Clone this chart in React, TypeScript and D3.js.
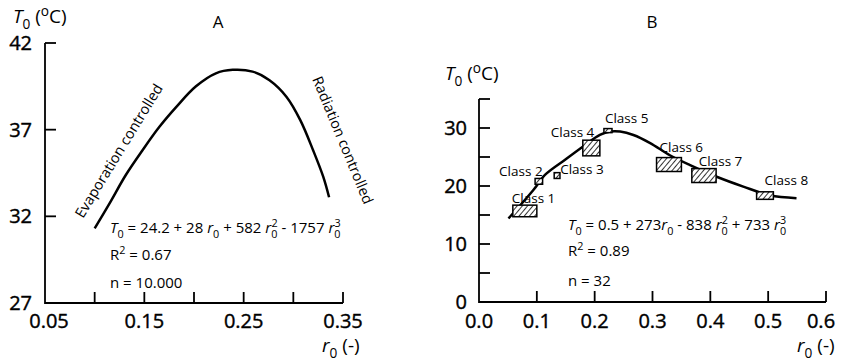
import * as d3 from 'd3'
import { useEffect, useRef } from 'react'

// panel A: fitted curve (r0, T0)
const curveA: [number, number][] = [
  [0.1, 31.3], [0.115, 32.75], [0.1315, 34.4], [0.148, 35.8], [0.165, 37.15],
  [0.182, 38.3], [0.202, 39.5], [0.222, 40.25], [0.239, 40.45], [0.259, 40.35],
  [0.276, 39.85], [0.293, 38.9], [0.307, 37.55], [0.32, 35.8], [0.33, 34.3],
  [0.336, 33.1],
]
const xTicksA = [0.05, 0.1, 0.15, 0.2, 0.25, 0.3, 0.35]
const xLabelsA = [0.05, 0.15, 0.25, 0.35]
const yTicksA = [27, 32, 37, 42]

// panel B: fitted curve
const curveB: [number, number][] = [
  [0.051, 14.4], [0.094, 19.3], [0.114, 21.9], [0.15, 24.6], [0.18, 26.8],
  [0.209, 28.8], [0.227, 29.4], [0.244, 29.4], [0.267, 28.8], [0.296, 27.4],
  [0.33, 25.3], [0.365, 23.6], [0.411, 21.6], [0.457, 19.9], [0.503, 18.4],
  [0.549, 17.9],
]
// class boxes: r0 range and T0 range
const classNames = ['Class 1', 'Class 2', 'Class 3', 'Class 4', 'Class 5', 'Class 6', 'Class 7', 'Class 8']
const classR0: [number, number][] = [
  [0.0585, 0.1], [0.097, 0.11], [0.13, 0.14], [0.1795, 0.209],
  [0.216, 0.23], [0.307, 0.35], [0.368, 0.41], [0.48, 0.509],
]
const classT0: [number, number][] = [
  [14.7, 16.7], [20.3, 21.3], [21.3, 22.3], [25.2, 27.9],
  [29.2, 29.9], [22.5, 24.9], [20.6, 23.0], [17.7, 19.0],
]
const xTicksB = [0, 0.1, 0.2, 0.3, 0.4, 0.5, 0.6]
const yTicksB = [0, 5, 10, 15, 20, 25, 30, 35]
const yLabelsB = [0, 10, 20, 30]

// label placement relative to box top-left (px)
const labelOffsets: [number, number][] = [
  [-1, -2], [-36, -2], [6, 1], [-32, -3], [1, -6], [3, -5.5], [7, -3], [8, -7],
]

const FONT = '"Open Sans", "DejaVu Sans", sans-serif'

type Part = [string, string] // [text, style] n normal, i italic, b sub, p sup, q sup stacked on sub

function rich(
  g: d3.Selection<SVGGElement, unknown, null, undefined>,
  x: number,
  y: number,
  size: number,
  parts: Part[],
  anchor = 'start'
) {
  const t = g
    .append('text')
    .attr('x', x)
    .attr('y', y)
    .attr('font-size', size)
    .attr('font-family', FONT)
    .attr('text-anchor', anchor)
  let shift = 0
  parts.forEach(([s, st]) => {
    let target = 0
    let fs = size
    let dx = 0
    if (st === 'b') {
      target = size * 0.3
      fs = size * 0.72
    } else if (st === 'p' || st === 'q') {
      target = -size * 0.38
      fs = size * 0.72
      if (st === 'q') dx = -size * 0.4
    }
    const ts = t
      .append('tspan')
      .attr('dy', target - shift)
      .attr('font-size', fs)
      .text(s)
    if (dx) ts.attr('dx', dx)
    if (st === 'i') ts.attr('font-style', 'italic')
    shift = target
  })
  return t
}

export default function App() {
  const ref = useRef<SVGSVGElement>(null)

  useEffect(() => {
    const svg = d3.select(ref.current)
    svg.selectAll('*').remove()

    const defs = svg.append('defs')
    const pat = defs
      .append('pattern')
      .attr('id', 'hatch')
      .attr('patternUnits', 'userSpaceOnUse')
      .attr('width', 4)
      .attr('height', 4)
      .attr('patternTransform', 'rotate(40)')
    pat.append('rect').attr('width', 4).attr('height', 4).attr('fill', '#fff')
    pat.append('line').attr('x1', 0).attr('y1', 0).attr('x2', 0).attr('y2', 4)
      .attr('stroke', '#000').attr('stroke-width', 1.6)

    const g = svg.append('g') as d3.Selection<SVGGElement, unknown, null, undefined>

    // ---------- panel A ----------
    const xA = d3.scaleLinear().domain([0.05, 0.35]).range([45, 343])
    const yA = d3.scaleLinear().domain([27, 42]).range([303, 43])

    g.append('path')
      .attr('d', `M${xA(0.05)},${yA(42)}V${yA(27)}H${xA(0.35)}`)
      .attr('fill', 'none').attr('stroke', '#000').attr('stroke-width', 1.8)

    g.selectAll('.txa').data(xTicksA.slice(1)).enter().append('line')
      .attr('x1', (d) => xA(d)).attr('x2', (d) => xA(d))
      .attr('y1', yA(27)).attr('y2', yA(27) - 11)
      .attr('stroke', '#000').attr('stroke-width', 1.8)
    g.selectAll('.tya').data(yTicksA.slice(1)).enter().append('line')
      .attr('x1', xA(0.05)).attr('x2', xA(0.05) + 11)
      .attr('y1', (d) => yA(d)).attr('y2', (d) => yA(d))
      .attr('stroke', '#000').attr('stroke-width', 1.8)

    g.selectAll('.lxa').data(xLabelsA).enter().append('text')
      .attr('x', (d) => xA(d) + (d === 0.05 ? 4 : 0)).attr('y', 328)
      .attr('text-anchor', 'middle').attr('font-size', 20).attr('font-family', FONT)
      .attr('stroke', '#000').attr('stroke-width', 0.4)
      .text((d) => d.toFixed(2))
    g.selectAll('.lya').data(yTicksA).enter().append('text')
      .attr('x', 32).attr('y', (d) => yA(d) + 7)
      .attr('text-anchor', 'end').attr('font-size', 20).attr('font-family', FONT)
      .attr('stroke', '#000').attr('stroke-width', 0.4)
      .text((d) => d)

    const lineA = d3.line<[number, number]>()
      .x((d) => xA(d[0])).y((d) => yA(d[1]))
      .curve(d3.curveCatmullRom)
    g.append('path').attr('d', lineA(curveA) as string)
      .attr('fill', 'none').attr('stroke', '#000').attr('stroke-width', 2.5)

    g.append('text').attr('x', 218).attr('y', 28).attr('text-anchor', 'middle')
      .attr('font-size', 17).attr('font-family', FONT).text('A')

    rich(g, 13, 23, 19, [['T', 'i'], ['0', 'b'], [' (', 'n'], ['o', 'p'], ['C)', 'n']])
    rich(g, 322, 352, 19, [['r', 'i'], ['0', 'b'], [' (-)', 'n']])

    g.append('text')
      .attr('transform', 'translate(83,219) rotate(-58.5)')
      .attr('font-size', 14.5).attr('font-family', FONT).text('Evaporation controlled')
    g.append('text')
      .attr('transform', 'translate(312,79) rotate(67.5)')
      .attr('font-size', 14.5).attr('font-family', FONT).text('Radiation controlled')

    rich(g, 110, 233, 15, [
      ['T', 'i'], ['0', 'b'], [' = 24.2 + 28 ', 'n'], ['r', 'i'], ['0', 'b'],
      [' + 582 ', 'n'], ['r', 'i'], ['0', 'b'], ['2', 'q'],
      [' - 1757 ', 'n'], ['r', 'i'], ['0', 'b'], ['3', 'q'],
    ])
    rich(g, 110, 260, 15, [['R', 'n'], ['2', 'p'], [' = 0.67', 'n']])
    rich(g, 110, 288, 15, [['n = 10.000', 'n']])

    // ---------- panel B ----------
    const xB = d3.scaleLinear().domain([0, 0.6]).range([479, 826])
    const yB = d3.scaleLinear().domain([0, 35]).range([302, 99])

    g.append('path')
      .attr('d', `M${xB(0)},${yB(35)}V${yB(0)}H${xB(0.6)}`)
      .attr('fill', 'none').attr('stroke', '#000').attr('stroke-width', 1.8)
    g.selectAll('.txb').data(xTicksB.slice(1)).enter().append('line')
      .attr('x1', (d) => xB(d)).attr('x2', (d) => xB(d))
      .attr('y1', yB(0)).attr('y2', yB(0) - 11)
      .attr('stroke', '#000').attr('stroke-width', 1.8)
    g.selectAll('.tyb').data(yTicksB.slice(1)).enter().append('line')
      .attr('x1', xB(0)).attr('x2', xB(0) + 11)
      .attr('y1', (d) => yB(d)).attr('y2', (d) => yB(d))
      .attr('stroke', '#000').attr('stroke-width', 1.8)
    g.selectAll('.lxb').data(xTicksB).enter().append('text')
      .attr('x', (d) => xB(d) - (d === 0.6 ? 5 : 0)).attr('y', 328)
      .attr('text-anchor', 'middle').attr('font-size', 20).attr('font-family', FONT)
      .attr('stroke', '#000').attr('stroke-width', 0.4)
      .text((d) => d.toFixed(1))
    g.selectAll('.lyb').data(yLabelsB).enter().append('text')
      .attr('x', 467).attr('y', (d) => yB(d) + 7)
      .attr('text-anchor', 'end').attr('font-size', 20).attr('font-family', FONT)
      .attr('stroke', '#000').attr('stroke-width', 0.4)
      .text((d) => d)

    const lineB = d3.line<[number, number]>()
      .x((d) => xB(d[0])).y((d) => yB(d[1]))
      .curve(d3.curveCatmullRom)
    g.append('path').attr('d', lineB(curveB) as string)
      .attr('fill', 'none').attr('stroke', '#000').attr('stroke-width', 2.5)

    classNames.forEach((name, i) => {
      const x0 = xB(classR0[i][0])
      const x1 = xB(classR0[i][1])
      const y0 = yB(classT0[i][1])
      const y1 = yB(classT0[i][0])
      g.append('rect')
        .attr('x', x0).attr('y', y0).attr('width', x1 - x0).attr('height', y1 - y0)
        .attr('fill', 'url(#hatch)').attr('stroke', '#000').attr('stroke-width', 1.5)
      g.append('text')
        .attr('x', x0 + labelOffsets[i][0]).attr('y', y0 + labelOffsets[i][1])
        .attr('font-size', 13.5).attr('font-family', FONT).text(name)
    })

    g.append('text').attr('x', 652).attr('y', 28).attr('text-anchor', 'middle')
      .attr('font-size', 17).attr('font-family', FONT).text('B')

    rich(g, 445, 80, 19, [['T', 'i'], ['0', 'b'], [' (', 'n'], ['o', 'p'], ['C)', 'n']])
    rich(g, 797, 352, 19, [['r', 'i'], ['0', 'b'], [' (-)', 'n']])

    rich(g, 568, 230, 15, [
      ['T', 'i'], ['0', 'b'], [' = 0.5 + 273', 'n'], ['r', 'i'], ['0', 'b'],
      [' - 838 ', 'n'], ['r', 'i'], ['0', 'b'], ['2', 'q'],
      [' + 733 ', 'n'], ['r', 'i'], ['0', 'b'], ['3', 'q'],
    ])
    rich(g, 568, 256, 15, [['R', 'n'], ['2', 'p'], [' = 0.89', 'n']])
    rich(g, 568, 286, 15, [['n = 32', 'n']])
  }, [])

  return (
    <svg
      ref={ref}
      width={841}
      height={364}
      style={{ position: 'absolute', left: 0, top: 0, background: '#fff' }}
    />
  )
}
